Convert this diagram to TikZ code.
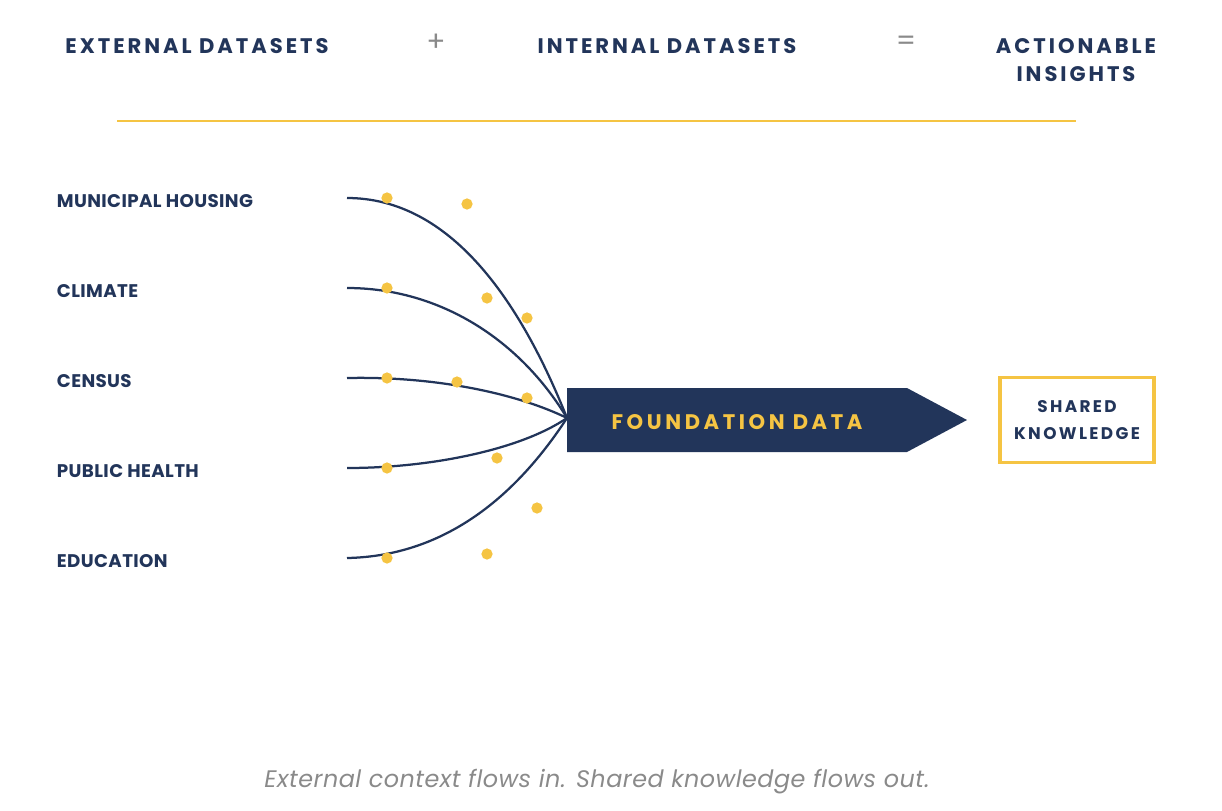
\documentclass[tikz,border=0pt]{standalone}
\usepackage{fontspec}
\setmainfont{Poppins}
\usetikzlibrary{positioning,calc}
\definecolor{navy}{HTML}{22355A}
\definecolor{gold}{HTML}{F5C443}
\definecolor{greytext}{HTML}{8A8A8A}
\begin{document}
\begin{tikzpicture}[
    x=0.025cm, y=-0.025cm,
    head/.style={text=navy, font=\fontsize{15}{20}\selectfont\bfseries\addfontfeatures{LetterSpace=14}, align=center},
    src/.style={text=navy, font=\fontsize{13}{15}\selectfont\bfseries\addfontfeatures{LetterSpace=2}, anchor=west},
    sign/.style={text=greytext, font=\fontsize{20}{20}\selectfont},
    flow/.style={draw=navy, line width=1.6pt},
    dot/.style={circle, fill=gold, inner sep=0pt, minimum size=8pt}
]
    \useasboundingbox (0,0) rectangle (1222,810);
    % header
    \node[head] (ext) at (197,46) {EXTERNAL DATASETS};
    \node[sign] (plus) at (436,43) {+};
    \node[head] (int) at (667,46) {INTERNAL DATASETS};
    \node[sign] (eq) at (906,43) {=};
    \node[head] (ins) at (1076,60) {ACTIONABLE\\INSIGHTS};
    \coordinate (rl) at (117,121);
    \coordinate (rr) at (1076,121);
    \draw[gold, line width=2pt] (rl) -- (rr);
    % sources
    \node[src] (housing) at (52,201) {MUNICIPAL HOUSING};
    \node[src] (climate) at (52,291) {CLIMATE};
    \node[src] (census) at (52,381) {CENSUS};
    \node[src] (health) at (52,471) {PUBLIC HEALTH};
    \node[src] (edu) at (52,561) {EDUCATION};
    \coordinate (s1) at (347,198);
    \coordinate (s2) at (347,288);
    \coordinate (s3) at (347,378);
    \coordinate (s4) at (347,468);
    \coordinate (s5) at (347,558);
    \coordinate (tip) at (567,418);
    % flows
    \draw[flow] (s1) .. controls (450,198) and (520,300) .. (tip);
    \draw[flow] (s2) .. controls (440,288) and (520,340) .. (tip);
    \draw[flow] (s3) .. controls (440,376) and (520,395) .. (tip);
    \draw[flow] (s4) .. controls (430,468) and (520,450) .. (tip);
    \draw[flow] (s5) .. controls (450,556) and (520,490) .. (tip);
    \foreach \p in {(387,198),(467,204),(387,288),(487,298),(527,318),(387,378),(457,382),(527,398),(387,468),(497,458),(537,508),(387,558),(487,554)}
        \node[dot] at \p {};
    % foundation arrow
    \fill[navy] (567,388) -- (907,388) -- (967,420) -- (907,452) -- (567,452) -- cycle;
    \node[text=gold, font=\fontsize{15}{17}\selectfont\bfseries\addfontfeatures{LetterSpace=17}] (found) at (737,422) {FOUNDATION DATA};
    \node[draw=gold, line width=2.2pt, text=navy,
          font=\fontsize{12}{19}\selectfont\bfseries\addfontfeatures{LetterSpace=14}, align=center,
          minimum width=3.85cm, minimum height=2.12cm] (shared) at (1077,420) {SHARED\\KNOWLEDGE};
    % caption
    \node[text=greytext, font=\fontsize{17}{20}\selectfont\itshape\addfontfeatures{LetterSpace=2}] (cap) at (597,782) {External context flows in. Shared knowledge flows out.};
\end{tikzpicture}
\end{document}
